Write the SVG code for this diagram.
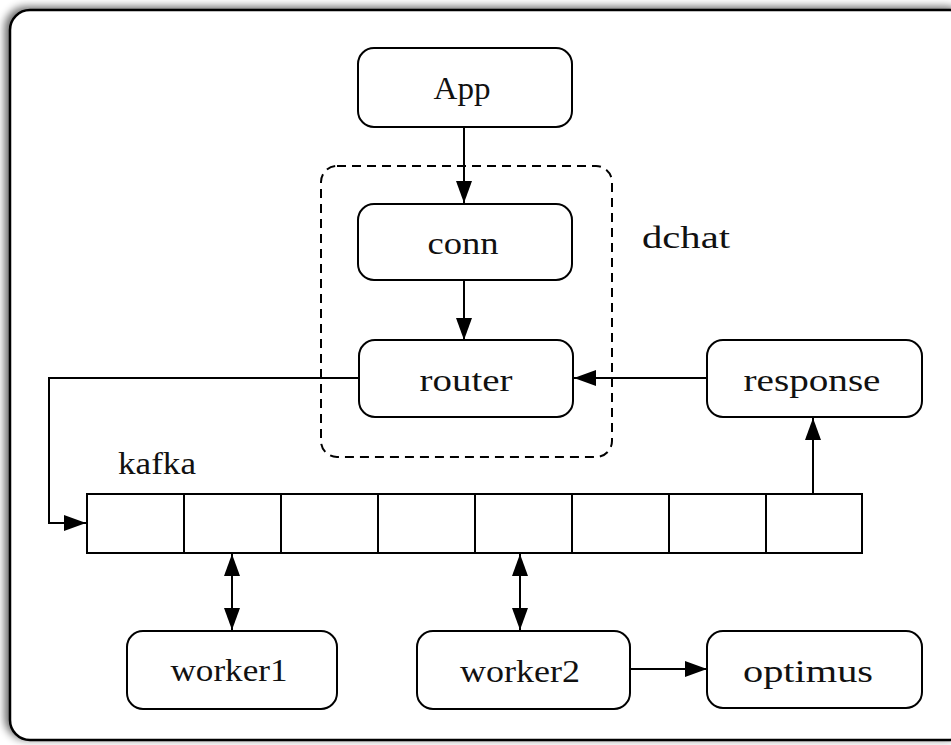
<svg xmlns="http://www.w3.org/2000/svg" width="951" height="745" viewBox="0 0 951 745">
<style>
.node{fill:#fff;stroke:#000;stroke-width:2}
.lbl{font-family:'Liberation Serif','Times New Roman','DejaVu Serif',serif;font-size:32px;fill:#111;text-anchor:middle}
.edge{fill:none;stroke:#000;stroke-width:2}
.cell{fill:#fff;stroke:#000;stroke-width:2}
</style>
<defs>
<marker id="ah" viewBox="0 0 22 16" refX="22" refY="8" markerWidth="22" markerHeight="16" markerUnits="userSpaceOnUse" orient="auto-start-reverse">
<path d="M0,0 L22,8 L0,16 Z" fill="#000"/>
</marker>
<filter id="sh" x="-5%" y="-5%" width="110%" height="110%">
<feGaussianBlur in="SourceAlpha" stdDeviation="4"/>
<feOffset dx="-4" dy="-2" result="b"/>
<feComponentTransfer><feFuncA type="linear" slope="0.6"/></feComponentTransfer>
<feMerge><feMergeNode/><feMergeNode in="SourceGraphic"/></feMerge>
</filter>
</defs>
<rect width="951" height="745" fill="#fff"/>
<rect id="frame" x="10" y="10" width="960" height="730" rx="20" fill="#fff" stroke="#000" stroke-width="2.5" filter="url(#sh)"/>

<g id="dchat">
<rect x="321" y="166" width="291" height="291" rx="16" fill="none" stroke="#000" stroke-width="2" stroke-dasharray="9,6"/>
<text class="lbl" x="686" y="248" textLength="88" lengthAdjust="spacingAndGlyphs">dchat</text>
</g>

<g id="connectors">
<path class="edge" d="M464,127 V203" marker-end="url(#ah)"/>
<path class="edge" d="M464,280 V340" marker-end="url(#ah)"/>
<path class="edge" d="M707,378 H574" marker-end="url(#ah)"/>
<path class="edge" d="M359,378 H49 V523 H86" marker-end="url(#ah)"/>
<path class="edge" d="M813,494 V418" marker-end="url(#ah)"/>
<path class="edge" d="M232,554 V630" marker-start="url(#ah)" marker-end="url(#ah)"/>
<path class="edge" d="M520,554 V630" marker-start="url(#ah)" marker-end="url(#ah)"/>
<path class="edge" d="M630,669 H707" marker-end="url(#ah)"/>
</g>

<g id="app"><rect class="node" x="358" y="48" width="214" height="79" rx="16"/><text class="lbl" x="462" y="99" textLength="57" lengthAdjust="spacingAndGlyphs">App</text></g>
<g id="conn"><rect class="node" x="358" y="204" width="214" height="76" rx="16"/><text class="lbl" x="463" y="254" textLength="71" lengthAdjust="spacingAndGlyphs">conn</text></g>
<g id="router"><rect class="node" x="359" y="340" width="214" height="77" rx="16"/><text class="lbl" x="466" y="391" textLength="93" lengthAdjust="spacingAndGlyphs">router</text></g>
<g id="response"><rect class="node" x="707" y="340" width="215" height="77" rx="16"/><text class="lbl" x="812" y="391" textLength="137" lengthAdjust="spacingAndGlyphs">response</text></g>

<g id="kafka">
<text class="lbl" x="157" y="474" textLength="78" lengthAdjust="spacingAndGlyphs">kafka</text>
<rect class="cell" x="87" y="494" width="97" height="59"/>
<rect class="cell" x="184" y="494" width="97" height="59"/>
<rect class="cell" x="281" y="494" width="97" height="59"/>
<rect class="cell" x="378" y="494" width="97" height="59"/>
<rect class="cell" x="475" y="494" width="97" height="59"/>
<rect class="cell" x="572" y="494" width="97" height="59"/>
<rect class="cell" x="669" y="494" width="97" height="59"/>
<rect class="cell" x="766" y="494" width="96" height="59"/>
</g>

<g id="worker1"><rect class="node" x="127" y="631" width="210" height="78" rx="16"/><text class="lbl" x="229" y="681" textLength="117" lengthAdjust="spacingAndGlyphs">worker1</text></g>
<g id="worker2"><rect class="node" x="417" y="631" width="213" height="78" rx="16"/><text class="lbl" x="520" y="682" textLength="120" lengthAdjust="spacingAndGlyphs">worker2</text></g>
<g id="optimus"><rect class="node" x="707" y="631" width="215" height="77" rx="16"/><text class="lbl" x="808" y="682" textLength="130" lengthAdjust="spacingAndGlyphs">optimus</text></g>
</svg>
